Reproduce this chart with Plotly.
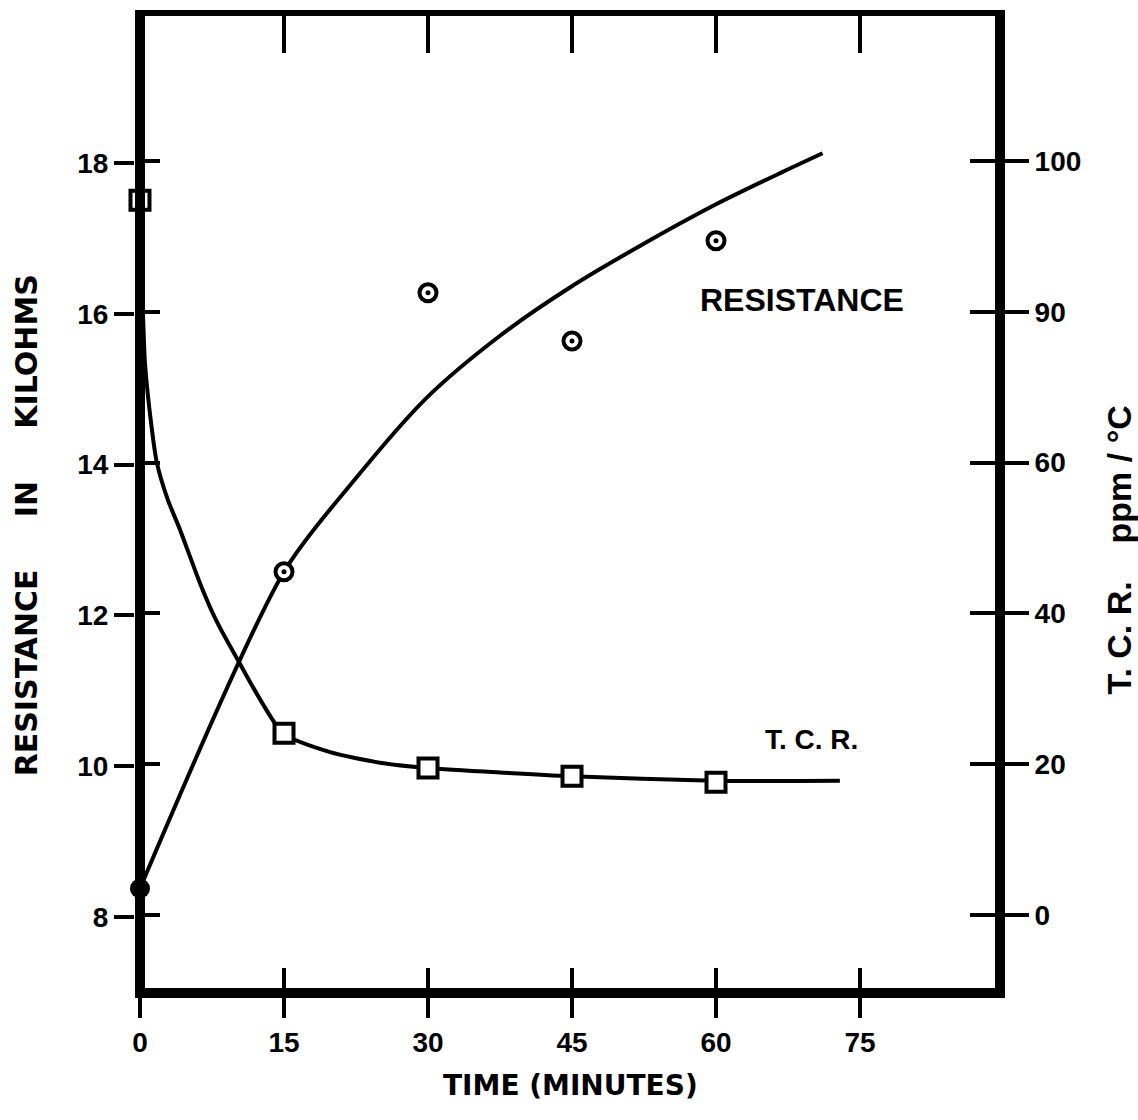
import plotly.graph_objects as go

# ---- data ----
time_pts = [0, 15, 30, 45, 60]
resistance_pts = [8.38, 12.58, 16.28, 15.64, 16.97]        # kilohms
tcr_pts = [94.8, 24.1, 19.5, 18.4, 17.6]                   # ppm/°C (linear scale)

res_curve_t = [0, 15, 21.9, 29.8, 37.6, 44.9, 52.2, 59.8, 66.9, 71.1]
res_curve_v = [8.38, 12.58, 13.73, 14.88, 15.72, 16.36, 16.91, 17.44, 17.88, 18.13]

tcr_curve_t = [0, 0.31, 0.52, 1.25, 1.77, 2.92, 4.17, 6.25, 7.81, 9.9, 14.9,
               19.8, 25.0, 30.0, 44.9, 59.8, 72.9]
tcr_curve_v = [94.8, 79.8, 73.2, 64.3, 59.9, 55.0, 51.1, 44.0, 39.4, 34.5, 24.1,
               21.6, 20.2, 19.5, 18.4, 17.8, 17.8]

x_ticks = [0, 15, 30, 45, 60, 75]
left_ticks = [8, 10, 12, 14, 16, 18]
right_tickvals = [0, 20, 40, 60, 80, 100]
right_ticktext = ["0", "20", "40", "60", "90", "100"]

TICKFONT = dict(family="Liberation Sans", size=28, color="black", weight="bold")

XR = [-0.52, 89.06]
YR = [7.06, 19.95]
Y2R = [-9.68, 119.23]

fig = go.Figure()

fig.add_trace(go.Scatter(x=res_curve_t, y=res_curve_v, mode="lines",
                         line=dict(color="black", width=4, shape="spline", smoothing=0.8),
                         xaxis="x", yaxis="y", hoverinfo="skip"))
fig.add_trace(go.Scatter(x=tcr_curve_t, y=tcr_curve_v, mode="lines",
                         line=dict(color="black", width=4, shape="spline", smoothing=0.6),
                         xaxis="x", yaxis="y2", hoverinfo="skip"))
# resistance markers: filled dot at t=0, circle with centre dot elsewhere
fig.add_trace(go.Scatter(x=time_pts, y=resistance_pts, mode="markers",
                         marker=dict(symbol="circle", size=[20, 17, 17, 17, 17],
                                     color=["black", "white", "white", "white", "white"],
                                     opacity=1, line=dict(color="black", width=[0, 4, 4, 4, 4])),
                         cliponaxis=False, xaxis="x", yaxis="y"))
fig.add_trace(go.Scatter(x=time_pts[1:], y=resistance_pts[1:], mode="markers",
                         marker=dict(symbol="circle", size=5, color="black", opacity=1),
                         cliponaxis=False, xaxis="x", yaxis="y"))
fig.add_trace(go.Scatter(x=time_pts, y=tcr_pts, mode="markers",
                         marker=dict(symbol="square", size=19, opacity=1,
                                     color=["rgba(0,0,0,0)", "white", "white", "white", "white"],
                                     line=dict(color="black", width=4)),
                         cliponaxis=False, xaxis="x", yaxis="y2"))
# empty traces so that the overlay tick axes are drawn
fig.add_trace(go.Scatter(x=[], y=[], xaxis="x", yaxis="y4", hoverinfo="skip"))
fig.add_trace(go.Scatter(x=[], y=[], xaxis="x2", yaxis="y", hoverinfo="skip"))
fig.add_trace(go.Scatter(x=[], y=[], xaxis="x3", yaxis="y", hoverinfo="skip"))

fig.update_layout(
    width=1138, height=1120,
    margin=dict(l=135, r=143, t=16, b=132),
    paper_bgcolor="white", plot_bgcolor="white",
    showlegend=False,
    xaxis=dict(range=XR, tickvals=x_ticks, ticks="outside", ticklen=20, tickwidth=3.5,
               tickcolor="black", showline=True, linewidth=10, linecolor="black",
               showgrid=False, zeroline=True, zerolinewidth=10, zerolinecolor="black",
               tickfont=TICKFONT),
    xaxis2=dict(range=XR, overlaying="x", side="top", anchor="y", tickvals=x_ticks[1:],
                ticks="inside", ticklen=37, tickwidth=3.5, tickcolor="black", showline=True,
                linewidth=6, linecolor="black", showgrid=False, zeroline=False,
                showticklabels=False),
    xaxis3=dict(range=XR, overlaying="x", side="bottom", anchor="y", tickvals=x_ticks[1:],
                ticks="inside", ticklen=20, tickwidth=3.5, tickcolor="black", showline=False,
                showgrid=False, zeroline=False, showticklabels=False),
    yaxis=dict(range=YR, tickvals=left_ticks, ticks="outside", ticklen=20, tickwidth=3.5,
               tickcolor="black", showline=False, showgrid=False, zeroline=False,
               tickfont=TICKFONT),
    yaxis2=dict(range=Y2R, overlaying="y", side="right", anchor="x", tickvals=right_tickvals,
                ticktext=right_ticktext, ticks="outside", ticklen=24, tickwidth=3.5,
                tickcolor="black", showline=True, linewidth=10, linecolor="black",
                showgrid=False, zeroline=False, tickfont=TICKFONT),
    # inside ticks on the right, mirrored onto the left edge as well
    yaxis4=dict(range=Y2R, overlaying="y", side="right", anchor="x", tickvals=right_tickvals,
                ticks="inside", ticklen=25, tickwidth=3.5, tickcolor="black", showline=False,
                mirror="ticks", showgrid=False, zeroline=False, showticklabels=False),
)

NB = "\u00a0"
common = dict(xref="paper", yref="paper", showarrow=False, xanchor="center", yanchor="middle")
PW = 1138 - 135 - 143
annotations = [
    dict(text="RESISTANCE", x=(802 - 135) / PW, y=0.708,
         font=dict(family="Liberation Sans", size=32, color="black", weight="bold"), **common),
    dict(text="T." + NB + "C." + NB + "R.", x=(811 - 135) / PW, y=0.256,
         font=dict(family="Liberation Sans", size=28, color="black", weight="bold"), **common),
    dict(text="RESISTANCE" + NB * 5 + "IN" + NB * 5 + "KILOHMS", x=(26 - 135) / PW, y=0.476,
         textangle=-90, font=dict(family="DejaVu Sans", size=30, color="black", weight="bold"),
         **common),
    dict(text="T." + NB + "C." + NB + "R." + NB * 4 + "ppm" + NB + "/" + NB + "°C",
         x=(1119 - 135) / PW, y=0.45, textangle=-90,
         font=dict(family="Liberation Sans", size=34, color="black", weight="bold"), **common),
    dict(text="TIME" + NB + "(MINUTES)", x=(570 - 135) / PW, y=(988 - 1085) / 972.0,
         font=dict(family="DejaVu Sans", size=28, color="black", weight="bold"), **common),
]
fig.update_layout(annotations=annotations)

fig.write_html("out.html")
